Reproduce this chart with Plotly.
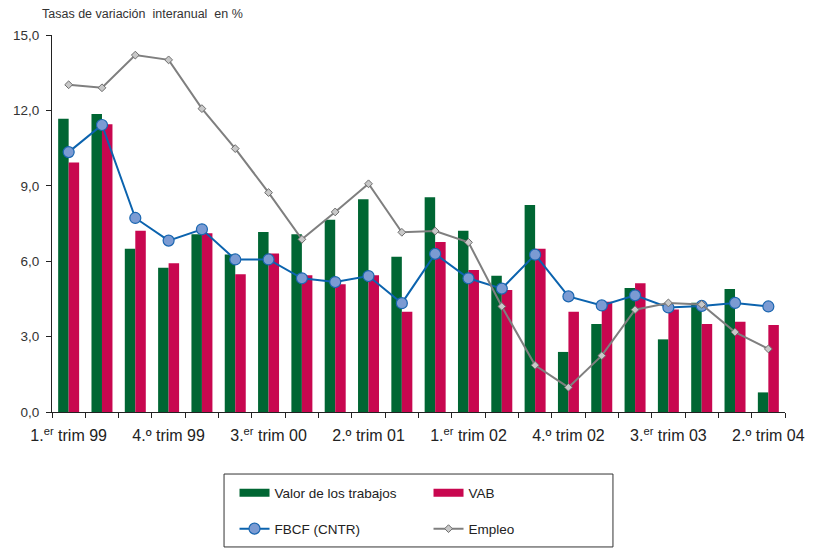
import plotly.graph_objects as go

quarters = [
    "1T99", "2T99", "3T99", "4T99", "1T00", "2T00", "3T00", "4T00",
    "1T01", "2T01", "3T01", "4T01", "1T02", "2T02", "3T02", "4T02",
    "1T03", "2T03", "3T03", "4T03", "1T04", "2T04",
]
tick_text = {
    "1T99": "1.<sup>er</sup> trim 99", "4T99": "4.º trim 99",
    "3T00": "3.<sup>er</sup> trim 00", "2T01": "2.º trim 01",
    "1T02": "1.<sup>er</sup> trim 02", "4T02": "4.º trim 02",
    "3T03": "3.<sup>er</sup> trim 03", "2T04": "2.º trim 04",
}

valor_trabajos = [11.67, 11.86, 6.50, 5.74, 7.07, 6.27, 7.16, 7.07, 7.65, 8.46, 6.18,
                  8.54, 7.21, 5.42, 8.24, 2.39, 3.50, 4.93, 2.89, 4.35, 4.89, 0.78]
vab = [9.93, 11.45, 7.21, 5.92, 7.11, 5.48, 6.31, 5.44, 5.08, 5.44, 3.99,
       6.76, 5.65, 4.85, 6.50, 3.99, 4.39, 5.12, 4.08, 3.50, 3.59, 3.46]
fbcf = [10.34, 11.42, 7.72, 6.82, 7.27, 6.07, 6.07, 5.32, 5.17, 5.41, 4.33,
        6.29, 5.32, 4.91, 6.26, 4.60, 4.24, 4.64, 4.16, 4.22, 4.34, 4.20]
empleo = [13.02, 12.90, 14.20, 14.01, 12.07, 10.48, 8.73, 6.87, 7.96, 9.08, 7.15,
          7.20, 6.75, 4.20, 1.86, 0.98, 2.24, 4.07, 4.34, 4.28, 3.18, 2.51]

FONT = "Liberation Sans, Arial, sans-serif"
GREEN, RED = "#006633", "#C8074F"

fig = go.Figure()
fig.add_trace(go.Bar(x=quarters, y=valor_trabajos, name="Valor de los trabajos",
                     marker=dict(color=GREEN, line=dict(width=0)),
                     legendgroup="valor", showlegend=False))
fig.add_trace(go.Bar(x=quarters, y=vab, name="VAB",
                     marker=dict(color=RED, line=dict(width=0)),
                     legendgroup="vab", showlegend=False))
# legend-only entries so the bar keys are wide rectangles as in the original
fig.add_trace(go.Scatter(x=[None], y=[None], mode="lines", name="Valor de los trabajos",
                         line=dict(color=GREEN, width=8), legendgroup="valor", legend="legend"))
fig.add_trace(go.Scatter(x=[None], y=[None], mode="lines", name="VAB",
                         line=dict(color=RED, width=8), legendgroup="vab", legend="legend"))
fig.add_trace(go.Scatter(x=quarters, y=fbcf, name="FBCF (CNTR)", mode="lines+markers",
                         line=dict(color="#0B63AE", width=2),
                         marker=dict(symbol="circle", size=11, color="#7B9BD3",
                                     line=dict(color="#1A66B0", width=1.2)),
                         legend="legend2"))
fig.add_trace(go.Scatter(x=quarters, y=empleo, name="Empleo", mode="lines+markers",
                         line=dict(color="#7F7F7F", width=2),
                         marker=dict(symbol="diamond", size=6, color="#C8C8C8",
                                     line=dict(color="#6E6E6E", width=1)),
                         legend="legend2"))

# page body adds an 8px margin, so the figure is drawn 8px smaller and shifted
fig.update_layout(
    width=806, height=540,
    margin=dict(l=44, r=29, t=27, b=136, autoexpand=False),
    paper_bgcolor="white", plot_bgcolor="white",
    font=dict(family=FONT, color="#222222"),
    barmode="group", bargap=0.37, bargroupgap=0,
    showlegend=True,
    legend=dict(orientation="h", x=0.249, xanchor="left", y=-0.215, yanchor="middle",
                entrywidth=149, font=dict(size=13.5, family=FONT),
                bgcolor="rgba(0,0,0,0)", borderwidth=0),
    legend2=dict(orientation="h", x=0.249, xanchor="left", y=-0.31, yanchor="middle",
                 entrywidth=149, font=dict(size=13.5, family=FONT),
                 bgcolor="rgba(0,0,0,0)", borderwidth=0),
    shapes=[dict(type="rect", xref="paper", yref="paper",
                 x0=0.2347, x1=0.7653, y0=-0.358, y1=-0.1645,
                 line=dict(color="#333333", width=1), fillcolor="rgba(0,0,0,0)")],
    annotations=[dict(text="Tasas de variación  interanual  en %", xref="paper", yref="paper",
                      x=-0.017, y=1.056, xanchor="left", yanchor="middle", showarrow=False,
                      font=dict(size=12.5, family=FONT, color="#333333"))],
)

fig.update_xaxes(
    type="category", categoryorder="array", categoryarray=quarters,
    range=[-0.5, len(quarters) - 0.5],
    tickmode="array", tickvals=quarters, ticktext=[tick_text.get(q, "") for q in quarters],
    tickson="boundaries", ticks="outside", ticklen=5, tickcolor="#222222",
    ticklabelstandoff=9,
    showline=True, linecolor="#222222", linewidth=1.2,
    showgrid=False, tickangle=0,
    tickfont=dict(size=16, family=FONT, color="#222222"),
)
fig.update_yaxes(
    range=[0, 15], tickmode="array", tickvals=[0, 3, 6, 9, 12, 15],
    ticktext=["0,0", "3,0", "6,0", "9,0", "12,0", "15,0"],
    ticks="outside", ticklen=5, tickcolor="#222222",
    ticklabelstandoff=4,
    showline=True, linecolor="#222222", linewidth=1.2,
    showgrid=False, zeroline=False,
    tickfont=dict(size=13.5, family=FONT, color="#333333"),
)

fig.write_html("out.html")
